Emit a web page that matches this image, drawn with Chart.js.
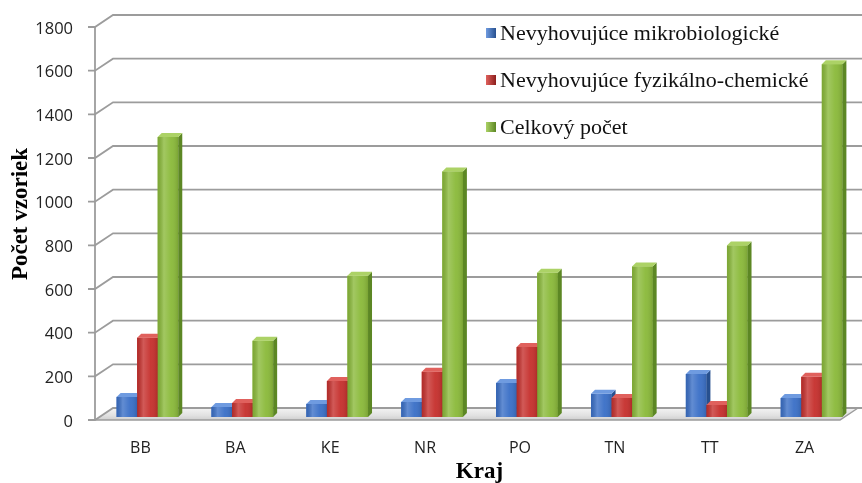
<!DOCTYPE html>
<html>
<head>
<meta charset="utf-8">
<script src="https://cdn.jsdelivr.net/npm/chart.js@4.4.1/dist/chart.umd.min.js"></script>
<style>
  html, body { margin: 0; padding: 0; background: #ffffff; }
  #wrap { width: 862px; height: 483px; }
</style>
</head>
<body>
<div id="wrap"><canvas id="c" width="862" height="483"></canvas></div>
<script>
// Regions (kraje) and sample counts per region
const categories = ['BB', 'BA', 'KE', 'NR', 'PO', 'TN', 'TT', 'ZA'];
const microbiological = [92, 46, 60, 69, 156, 106, 197, 87];
const physicoChemical = [363, 64, 165, 207, 321, 87, 55, 184];
const totalSamples = [1283, 349, 647, 1125, 661, 689, 785, 1616];
const seriesNames = ['Nevyhovujúce mikrobiologické', 'Nevyhovujúce fyzikálno-chemické', 'Celkový počet'];
const yMin = 0, yMax = 1800, yStep = 200;
const yTitle = 'Počet vzoriek';
const xTitle = 'Kraj';

// Colours: front face, side face, top face
const frontColors = ['#3b70c7', '#c6312e', '#8bba3b'];
const sideColors  = ['#27508f', '#8c1f1d', '#5c8724'];
const topColors   = ['#6f9be0', '#e0615d', '#acd266'];

// Pseudo-3D geometry (pixel offsets relative to the bar plane)
const DEPTH = { dx: 4, dy: -4 };   // thickness of each column
const FRONT = { dx: -5, dy: 3 };   // front edge of floor / vertical axis
const BACK  = { dx: 13, dy: -9 };  // back wall

const GRID = '#9c9c9c';

function drawColumn(ctx, bar, i) {
  const { x, y, base, width } = bar.getProps(['x', 'y', 'base', 'width'], true);
  const l = x - width / 2, r = x + width / 2;
  // front face (library element)
  bar.draw(ctx);
  // glossy shading on the front face
  const sh = ctx.createLinearGradient(l, 0, r, 0);
  sh.addColorStop(0, 'rgba(0,0,0,0.10)');
  sh.addColorStop(0.3, 'rgba(255,255,255,0.20)');
  sh.addColorStop(0.65, 'rgba(255,255,255,0.04)');
  sh.addColorStop(1, 'rgba(0,0,0,0.12)');
  ctx.fillStyle = sh;
  ctx.fillRect(l, y, width, base - y);
  // side face
  ctx.beginPath();
  ctx.moveTo(r, y);
  ctx.lineTo(r + DEPTH.dx, y + DEPTH.dy);
  ctx.lineTo(r + DEPTH.dx, base + DEPTH.dy);
  ctx.lineTo(r, base);
  ctx.closePath();
  ctx.fillStyle = sideColors[i];
  ctx.fill();
  // top face
  ctx.beginPath();
  ctx.moveTo(l, y);
  ctx.lineTo(r, y);
  ctx.lineTo(r + DEPTH.dx, y + DEPTH.dy);
  ctx.lineTo(l + DEPTH.dx, y + DEPTH.dy);
  ctx.closePath();
  ctx.fillStyle = topColors[i];
  ctx.fill();
}

const wallPlugin = {
  id: 'wall3d',
  beforeDatasetsDraw(chart) {
    const { ctx, chartArea: a, scales: { y } } = chart;
    const fx = a.left + FRONT.dx;
    const bx = a.left + BACK.dx;
    const y0 = y.getPixelForValue(yMin);
    ctx.save();

    // floor plate
    const frRight = a.right - 14 + FRONT.dx;
    const bkRight = a.right - 14 + BACK.dx;
    const g = ctx.createLinearGradient(0, y0 + BACK.dy, 0, y0 + FRONT.dy);
    g.addColorStop(0, '#f4f4f4');
    g.addColorStop(0.6, '#e2e2e2');
    g.addColorStop(1, '#cfcfcf');
    ctx.beginPath();
    ctx.moveTo(fx, y0 + FRONT.dy);
    ctx.lineTo(frRight, y0 + FRONT.dy);
    ctx.lineTo(bkRight, y0 + BACK.dy);
    ctx.lineTo(bx, y0 + BACK.dy);
    ctx.closePath();
    ctx.fillStyle = g;
    ctx.fill();
    ctx.strokeStyle = GRID;
    ctx.lineWidth = 1.5;
    ctx.beginPath();
    ctx.moveTo(fx, y0 + FRONT.dy);
    ctx.lineTo(frRight, y0 + FRONT.dy);
    ctx.lineTo(bkRight, y0 + BACK.dy);
    ctx.stroke();

    // back-wall gridlines with their slanted side-wall segments and tick marks
    ctx.strokeStyle = GRID;
    ctx.lineWidth = 1.8;
    for (let v = yMin; v <= yMax; v += yStep) {
      const py = y.getPixelForValue(v);
      ctx.beginPath();
      ctx.moveTo(fx - 7, py + FRONT.dy);
      ctx.lineTo(fx, py + FRONT.dy);
      ctx.lineTo(bx, py + BACK.dy);
      ctx.lineTo(chart.width, py + BACK.dy);
      ctx.stroke();
    }
    // vertical value axis
    ctx.beginPath();
    ctx.moveTo(fx, y.getPixelForValue(yMax) + FRONT.dy);
    ctx.lineTo(fx, y0 + FRONT.dy);
    ctx.stroke();
    ctx.restore();
  },
  afterDatasetsDraw(chart) {
    // columns are drawn left to right within each group so that every
    // column's front face covers the side face of its left neighbour
    const { ctx } = chart;
    ctx.save();
    chart.data.datasets.forEach((ds, i) => {
      chart.getDatasetMeta(i).data.forEach((bar) => drawColumn(ctx, bar, i));
    });
    ctx.restore();
  },
  afterDraw(chart) {
    const { ctx } = chart;
    ctx.save();
    // legend
    const lx = 486, ly = [33, 80, 127];
    ctx.font = '22px "Liberation Serif"';
    ctx.textBaseline = 'middle';
    ctx.textAlign = 'left';
    chart.data.datasets.forEach((ds, k) => {
      const sq = ctx.createLinearGradient(lx, 0, lx + 10, 0);
      sq.addColorStop(0, topColors[k]);
      sq.addColorStop(1, sideColors[k]);
      ctx.fillStyle = sq;
      ctx.fillRect(lx, ly[k] - 5, 10, 10);
      ctx.fillStyle = '#111111';
      ctx.fillText(ds.label, lx + 14, ly[k] + 1);
    });
    // axis titles
    ctx.fillStyle = '#000000';
    ctx.font = 'bold 23px "Liberation Serif"';
    ctx.textAlign = 'center';
    ctx.textBaseline = 'alphabetic';
    ctx.fillText(xTitle, (chart.chartArea.left + chart.chartArea.right) / 2, 478);
    ctx.translate(27, 214);
    ctx.rotate(-Math.PI / 2);
    ctx.fillText(yTitle, 0, 0);
    ctx.restore();
  }
};

const chart = new Chart(document.getElementById('c'), {
  type: 'bar',
  data: {
    labels: categories,
    datasets: [
      { label: seriesNames[0], data: microbiological, backgroundColor: frontColors[0] },
      { label: seriesNames[1], data: physicoChemical, backgroundColor: frontColors[1] },
      { label: seriesNames[2], data: totalSamples, backgroundColor: frontColors[2] }
    ]
  },
  options: {
    responsive: false,
    animation: false,
    devicePixelRatio: 1,
    layout: { padding: { top: 24, right: 3, bottom: 0, left: 0 } },
    datasets: { bar: { barPercentage: 1.0, categoryPercentage: 0.65, borderWidth: 0 } },
    plugins: { legend: { display: false }, tooltip: { enabled: false } },
    scales: {
      x: {
        grid: { display: false, drawTicks: false },
        border: { display: false },
        ticks: { padding: 22, labelOffset: -7, color: '#222222', font: { family: 'Open Sans', size: 16 } },
        afterFit(scale) {
          scale.height = 66;
          scale.paddingLeft = 0; scale.paddingRight = 0;
        }
      },
      y: {
        min: yMin, max: yMax,
        grid: { display: false, drawTicks: false },
        border: { display: false },
        ticks: {
          stepSize: yStep, padding: 27, labelOffset: 5, color: '#222222',
          font: { family: 'Open Sans', size: 16.5 },
          callback: (v) => String(v)
        },
        afterFit(scale) {
          scale.width = 100;
          scale.paddingTop = 0; scale.paddingBottom = 0;
        }
      }
    }
  },
  plugins: [wallPlugin]
});
</script>
</body>
</html>
